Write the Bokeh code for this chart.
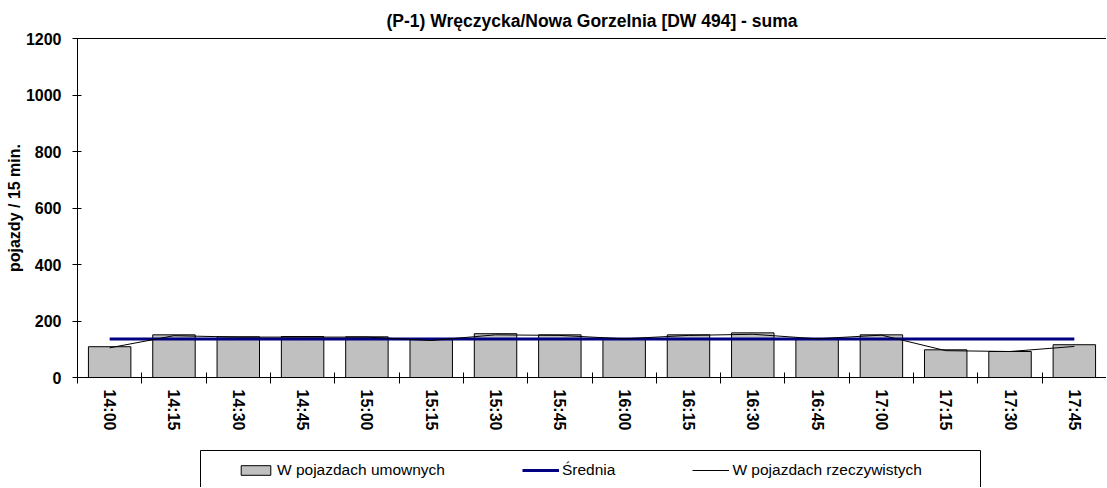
from bokeh.plotting import figure
from bokeh.models import (Range1d, FixedTicker, LinearAxis, Legend, LegendItem,
                          ColumnDataSource, Spacer)
from bokeh.layouts import column, row
from bokeh.embed import file_html
from bokeh.resources import INLINE

# ---- data -------------------------------------------------------------
godziny = ["14:00", "14:15", "14:30", "14:45", "15:00", "15:15", "15:30", "15:45",
           "16:00", "16:15", "16:30", "16:45", "17:00", "17:15", "17:30", "17:45"]
umowne = [109, 151, 144, 145, 144, 134, 155, 151, 137, 151, 158, 137, 151, 98, 92, 116]
rzeczywiste = [105, 148, 143, 143, 143, 131, 151, 149, 137, 149, 153, 137, 150, 95, 92, 110]
srednia_wartosc = 136
srednia = [srednia_wartosc] * len(godziny)
y_ticks = [0, 200, 400, 600, 800, 1000, 1200]
y_max = 1200

title_text = "(P-1) Wręczycka/Nowa Gorzelnia [DW 494] - suma"
y_label = "pojazdy / 15 min."
legend_labels = ["W pojazdach umownych", "Średnia", "W pojazdach rzeczywistych"]

FONT = "Liberation Sans"
BAR_FILL = "#C0C0C0"
NAVY = "#000080"

n = len(godziny)
centers = [i + 0.5 for i in range(n)]
bounds = list(range(n + 1))

src = ColumnDataSource(dict(x=centers, umowne=umowne, rzeczywiste=rzeczywiste,
                            srednia=srednia))

# ---- main figure --------------------------------------------------------
p = figure(width=1106, height=449, x_range=Range1d(0, n), y_range=Range1d(0, y_max),
           toolbar_location=None, output_backend="svg",
           min_border_left=77, min_border_right=0, min_border_top=38, min_border_bottom=72,
           x_axis_location=None, y_axis_location=None, outline_line_color=None,
           background_fill_color="white", border_fill_color="white")
p.xgrid.visible = False
p.ygrid.visible = False

p.title.text = title_text
p.title.align = "center"
p.title.text_font = FONT
p.title.text_font_size = "17.5px"
p.title.text_font_style = "bold"
p.title.text_color = "black"
p.title.standoff = 16

xaxis = LinearAxis(ticker=FixedTicker(ticks=centers, minor_ticks=bounds),
                   major_label_overrides={c: g for c, g in zip(centers, godziny)})
xaxis.major_label_orientation = "vertical"
xaxis.major_label_text_font = FONT
xaxis.major_label_text_font_size = "16px"
xaxis.major_label_text_font_style = "bold"
xaxis.major_label_text_color = "black"
xaxis.major_tick_line_color = None
xaxis.major_tick_in = 0
xaxis.major_tick_out = 0
xaxis.minor_tick_line_color = "black"
xaxis.minor_tick_in = 5
xaxis.minor_tick_out = 6
xaxis.axis_line_color = "black"
xaxis.major_label_standoff = 6
p.add_layout(xaxis, "below")

yaxis = LinearAxis(ticker=FixedTicker(ticks=y_ticks), axis_label=y_label)
yaxis.major_label_text_font = FONT
yaxis.major_label_text_font_size = "16px"
yaxis.major_label_text_font_style = "bold"
yaxis.major_label_text_color = "black"
yaxis.major_tick_line_color = "black"
yaxis.major_tick_in = 4
yaxis.major_tick_out = 5
yaxis.minor_tick_line_color = None
yaxis.axis_line_color = "black"
yaxis.major_label_standoff = 11
yaxis.axis_label_text_font = FONT
yaxis.axis_label_text_font_size = "16px"
yaxis.axis_label_text_font_style = "bold"
yaxis.axis_label_text_color = "black"
yaxis.axis_label_standoff = 0
p.add_layout(yaxis, "left")

def bare_axis():
    a = LinearAxis(ticker=FixedTicker(ticks=[]))
    a.major_tick_in = 0
    a.major_tick_out = 0
    a.minor_tick_in = 0
    a.minor_tick_out = 0
    a.major_tick_line_color = None
    a.minor_tick_line_color = None
    a.major_label_standoff = 0
    a.major_label_text_font_size = "0px"
    a.axis_line_color = "black"
    return a

p.add_layout(bare_axis(), "above")

p.vbar(x="x", top="umowne", width=0.66, source=src, fill_color=BAR_FILL,
       line_color="black", line_width=1)
p.line("x", "srednia", source=src, line_color=NAVY, line_width=3)
p.line("x", "rzeczywiste", source=src, line_color="black", line_width=1)

# ---- legend box (legend proxies reuse the series, kept outside the visible range) ----
p2 = figure(width=782, height=38, x_range=Range1d(0, n), y_range=Range1d(-2 * y_max, -y_max),
            toolbar_location=None, output_backend="svg",
            min_border_left=1, min_border_right=1, min_border_top=1, min_border_bottom=0,
            x_axis_location=None, y_axis_location=None, outline_line_color=None)
p2.xgrid.visible = False
p2.ygrid.visible = False
r1 = p2.vbar(x="x", top="umowne", width=0.66, source=src, fill_color=BAR_FILL,
             line_color="black", line_width=1)
r2 = p2.line("x", "srednia", source=src, line_color=NAVY, line_width=3)
r3 = p2.line("x", "rzeczywiste", source=src, line_color="black", line_width=1)
legend = Legend(items=[LegendItem(label=legend_labels[0], renderers=[r1]),
                       LegendItem(label=legend_labels[1], renderers=[r2]),
                       LegendItem(label=legend_labels[2], renderers=[r3])],
                orientation="horizontal", location=(37, 8),
                glyph_width=37, glyph_height=12, label_standoff=3, spacing=77,
                padding=0, margin=0, label_height=18,
                border_line_color=None, background_fill_alpha=0,
                label_text_font=FONT, label_text_font_size="15.5px",
                label_text_color="black")
p2.add_layout(legend, "center")
p2.add_layout(bare_axis(), "left")
p2.add_layout(bare_axis(), "right")
p2.add_layout(bare_axis(), "above")

layout = column(p, row(Spacer(width=199, height=38), p2))

open("out.html", "w").write(file_html(layout, INLINE))
